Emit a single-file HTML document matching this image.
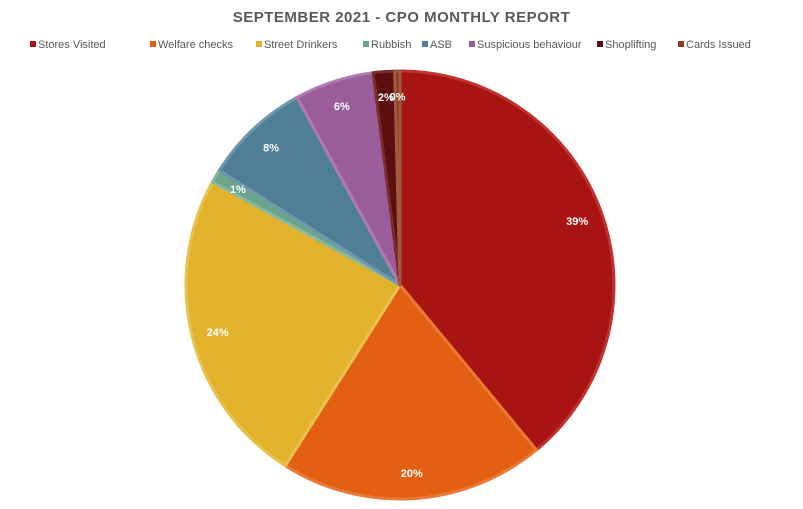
<!DOCTYPE html>
<html><head><meta charset="utf-8"><style>
body{margin:0;background:#fff;width:803px;height:509px;overflow:hidden;font-family:"Liberation Sans",sans-serif}
#title{position:absolute;top:9px;left:0;width:803px;text-align:center;font-size:15px;font-weight:bold;color:#595959;letter-spacing:0.5px}
.leg{position:absolute;top:39px;font-size:11px;color:#595959;white-space:nowrap}
.leg i{display:inline-block;width:6px;height:6px;margin-right:2px;vertical-align:1px}
</style></head><body>
<div id="title">SEPTEMBER 2021 - CPO MONTHLY REPORT</div>
<div id="legend"></div>
<svg id="chart" width="803" height="509" style="position:absolute;left:0;top:0"></svg>
<script>
const categories=["Stores Visited","Welfare checks","Street Drinkers","Rubbish","ASB","Suspicious behaviour","Shoplifting","Cards Issued"];
const values=[39,20,24,1,8,6,1.6,0.4];
const labels=["39%","20%","24%","1%","8%","6%","2%","0%"];
const colors=["#A81412","#E35F12","#E2B22A","#6BA58A","#4E7F96","#9B5C9A","#5C0F10","#8A3A1E"];
const strokes=["#C0322E","#EA7A36","#E8C24E","#8AB9A3","#6E97AB","#B07AAF","#7A2B2B","#A05A3E"];
const legendX=[30,150,256,363,422,469,597,678];
const leg=document.getElementById('legend');
categories.forEach((c,i)=>{
  const d=document.createElement('div');d.className='leg';d.style.left=legendX[i]+'px';
  
  
  d.innerHTML='<i style="background:'+colors[i]+'"></i>'+c;leg.appendChild(d);
});
const svg=document.getElementById('chart');const NS='http://www.w3.org/2000/svg';
const cx=400,cy=285,r=214;
const total=values.reduce((a,b)=>a+b,0);
let acc=0;
function pt(a,rr){return [cx+rr*Math.sin(a),cy-rr*Math.cos(a)];}
values.forEach((v,i)=>{
  const a0=acc/total*2*Math.PI;acc+=v;const a1=acc/total*2*Math.PI;
  const p0=pt(a0,r),p1=pt(a1,r);const large=(a1-a0)>Math.PI?1:0;
  const p=document.createElementNS(NS,'path');
  p.setAttribute('d',`M${cx},${cy}L${p0[0]},${p0[1]}A${r},${r} 0 ${large} 1 ${p1[0]},${p1[1]}Z`);
  p.setAttribute('fill',colors[i]);p.setAttribute('stroke',strokes[i]);p.setAttribute('stroke-width','3');p.setAttribute('stroke-linejoin','round');
  
  
  svg.appendChild(p);
});
acc=0;
values.forEach((v,i)=>{
  const am=(acc+v/2)/total*2*Math.PI;acc+=v;
  const lp=pt(am,r*0.88);
  const t=document.createElementNS(NS,'text');
  t.setAttribute('x',lp[0]);t.setAttribute('y',lp[1]+4);t.setAttribute('text-anchor','middle');
  t.setAttribute('font-size','11');t.setAttribute('font-weight','bold');t.setAttribute('fill','#fff');
  t.setAttribute('font-family','Liberation Sans, sans-serif');
  
  
  t.textContent=labels[i];svg.appendChild(t);
});
</script>
</body></html>
